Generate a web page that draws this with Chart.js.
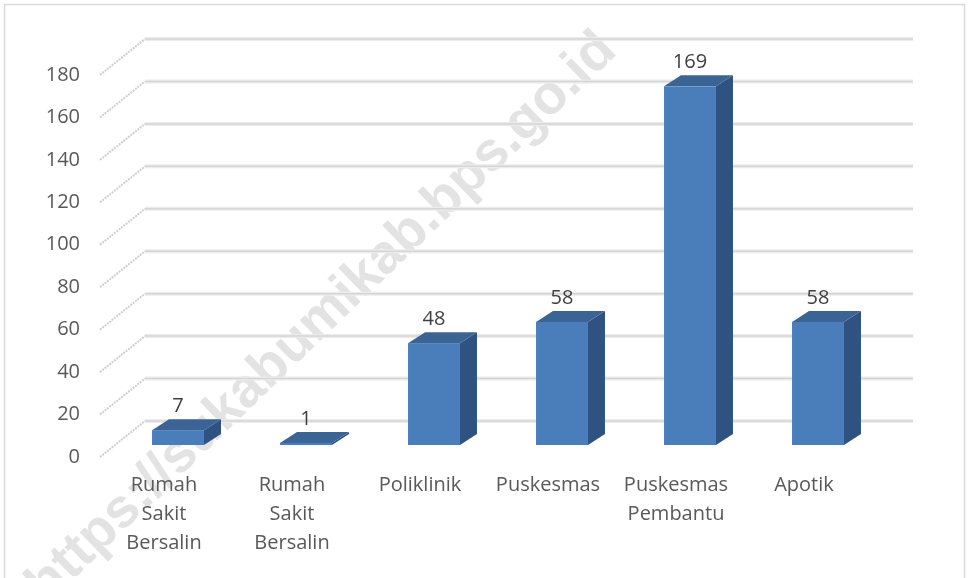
<!DOCTYPE html>
<html>
<head>
<meta charset="utf-8">
<script src="https://cdn.jsdelivr.net/npm/chart.js@4.4.1/dist/chart.umd.min.js"></script>
<style>
  body { margin: 0; background: #fff; }
  #wrap { width: 969px; height: 578px; }
</style>
</head>
<body>
<div id="wrap"><canvas id="mycanvas" width="969" height="578"></canvas></div>
<script>
var categories = [
	['Rumah', 'Sakit', 'Bersalin'],
	['Rumah', 'Sakit', 'Bersalin'],
	['Poliklinik'],
	['Puskesmas'],
	['Puskesmas', 'Pembantu'],
	['Apotik']
];
var jumlah = [7, 1, 48, 58, 169, 58];
var yTicks = [0, 20, 40, 60, 80, 100, 120, 140, 160, 180];
var watermark = 'https://sukabumikab.bps.go.id';

// fake 3d: depth of the walls and of the bars
var wallDx = 45, wallDy = -36;
var barShiftX = 14, barShiftY = -12;
var barDx = 17, barDy = -11;

var fontFam = '"Open Sans", "Noto Sans", sans-serif';

var bars3d = {
	id: 'bars3d',
	beforeDraw: function(chart) {
		var ctx = chart.ctx;
		ctx.save();
		ctx.fillStyle = '#fff';
		ctx.fillRect(0, 0, chart.width, chart.height);
		// watermark
		ctx.translate(322, 318);
		ctx.rotate(-44 * Math.PI / 180);
		ctx.font = 'bold 55px "Liberation Sans", Arial, sans-serif';
		ctx.fillStyle = '#e3e3e3';
		ctx.textAlign = 'center';
		ctx.textBaseline = 'middle';
		ctx.fillText(watermark, 0, 0);
		ctx.restore();
		// outer border
		ctx.save();
		ctx.strokeStyle = '#d9d9d9';
		ctx.lineWidth = 1.5;
		ctx.strokeRect(4.5, 4.5, 960, 600);
		ctx.restore();
	},
	beforeDatasetsDraw: function(chart) {
		var ctx = chart.ctx;
		var area = chart.chartArea;
		var ys = chart.scales.y;
		ctx.save();
		yTicks.forEach(function(v) {
			var y = ys.getPixelForValue(v);
			// side wall
			ctx.strokeStyle = '#cfcfcf';
			ctx.lineWidth = 2;
			ctx.setLineDash([2, 1]);
			ctx.beginPath();
			ctx.moveTo(area.left, y);
			ctx.lineTo(area.left + wallDx, y + wallDy);
			ctx.stroke();
			ctx.setLineDash([]);
			// back wall
			ctx.strokeStyle = '#ececec';
			ctx.lineWidth = 4;
			ctx.beginPath();
			ctx.moveTo(area.left + wallDx, y + wallDy);
			ctx.lineTo(area.right + wallDx, y + wallDy);
			ctx.stroke();
			ctx.strokeStyle = '#d6d6d6';
			ctx.lineWidth = 1.5;
			ctx.stroke();
		});
		ctx.restore();
	},
	afterDatasetsDraw: function(chart) {
		var ctx = chart.ctx;
		var meta = chart.getDatasetMeta(0);
		ctx.save();
		meta.data.forEach(function(bar, i) {
			var w = bar.width;
			var x0 = bar.x - w / 2 + barShiftX;
			var x1 = x0 + w;
			var top = bar.y + barShiftY;
			var bot = bar.base + barShiftY;
			// side
			ctx.fillStyle = '#2f5280';
			ctx.beginPath();
			ctx.moveTo(x1, bot);
			ctx.lineTo(x1 + barDx, bot + barDy);
			ctx.lineTo(x1 + barDx, top + barDy);
			ctx.lineTo(x1, top);
			ctx.closePath();
			ctx.fill();
			// top
			ctx.fillStyle = '#3b6495';
			ctx.beginPath();
			ctx.moveTo(x0, top);
			ctx.lineTo(x0 + barDx, top + barDy);
			ctx.lineTo(x1 + barDx, top + barDy);
			ctx.lineTo(x1, top);
			ctx.closePath();
			ctx.fill();
			// front
			ctx.fillStyle = '#4a7ebb';
			ctx.fillRect(x0, top, w, bot - top);
			// value label
			ctx.fillStyle = '#404040';
			ctx.font = '20px ' + fontFam;
			ctx.textAlign = 'center';
			ctx.textBaseline = 'middle';
			ctx.fillText(String(jumlah[i]), bar.x + barShiftX, top + barDy - 13);
		});
		ctx.restore();
	}
};

var chartdata = {
	labels: categories,
	datasets: [
		{
			label: 'Jumlah',
			data: jumlah,
			backgroundColor: 'rgba(0,0,0,0)',
			borderWidth: 0,
			barPercentage: 0.406,
			categoryPercentage: 1
		}
	]
};

var ctx = document.getElementById('mycanvas');

var barGraph = new Chart(ctx, {
	type: 'bar',
	data: chartdata,
	plugins: [bars3d],
	options: {
		responsive: false,
		animation: false,
		layout: { padding: { left: 0, right: 101, top: 75, bottom: 0 } },
		plugins: {
			legend: { display: false },
			tooltip: { enabled: false }
		},
		scales: {
			x: {
				grid: { display: false, drawTicks: false },
				border: { display: false },
				ticks: {
					color: '#595959',
					padding: 14,
					maxRotation: 0,
					autoSkip: false,
					font: { family: fontFam, size: 20, lineHeight: 1.45 }
				},
				afterFit: function(s) { s.height = 121; }
			},
			y: {
				min: 0,
				max: 180,
				grid: { display: false, drawTicks: false },
				border: { display: false },
				ticks: {
					stepSize: 20,
					color: '#595959',
					padding: 20,
					font: { family: fontFam, size: 20 }
				},
				afterFit: function(s) { s.width = 100; }
			}
		}
	}
});
</script>
</body>
</html>
